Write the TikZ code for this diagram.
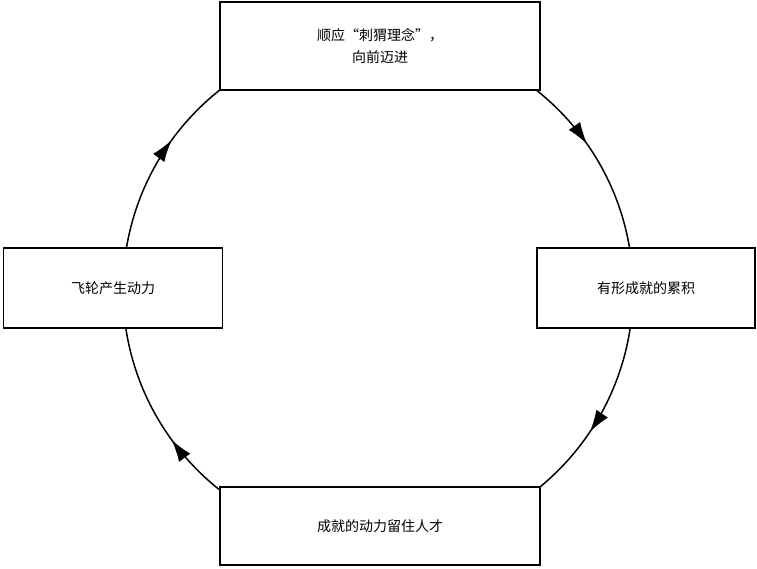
\documentclass[tikz,border=0pt]{standalone}
\usepackage{fontspec}
\setmainfont{Noto Sans CJK SC}
\usetikzlibrary{arrows.meta, decorations.markings}

\tikzset{
  stepbox/.style={draw, line width=1.3pt, fill=white, font=\fontsize{14}{22}\selectfont, align=center},
  cyclearrow/.style={decoration={markings,
      mark=at position 0.097 with {\arrowreversed{Latex[length=22pt,width=14pt]}},
      mark=at position 0.400 with {\arrowreversed{Latex[length=22pt,width=14pt]}},
      mark=at position 0.600 with {\arrowreversed{Latex[length=22pt,width=14pt]}},
      mark=at position 0.906 with {\arrowreversed{Latex[length=22pt,width=14pt]}}},
    postaction={decorate}}
}

\begin{document}
\begin{tikzpicture}[x=1pt, y=-1pt]
    \useasboundingbox (0,0) rectangle (757,568);

    % Cycle
    \draw[line width=1.5pt, cyclearrow] (378,290) circle (255pt);

    % Steps
    \node[stepbox, minimum width=320pt, minimum height=88pt] (forward) at (380,46) {顺应“刺猬理念”，\\向前迈进};
    \node[stepbox, minimum width=218pt, minimum height=80pt] (results) at (646,288) {有形成就的累积};
    \node[stepbox, minimum width=320pt, minimum height=78pt] (talent) at (380,526) {成就的动力留住人才};
    \node[stepbox, minimum width=219pt, minimum height=80pt] (flywheel) at (113,288) {飞轮产生动力};
\end{tikzpicture}
\end{document}
